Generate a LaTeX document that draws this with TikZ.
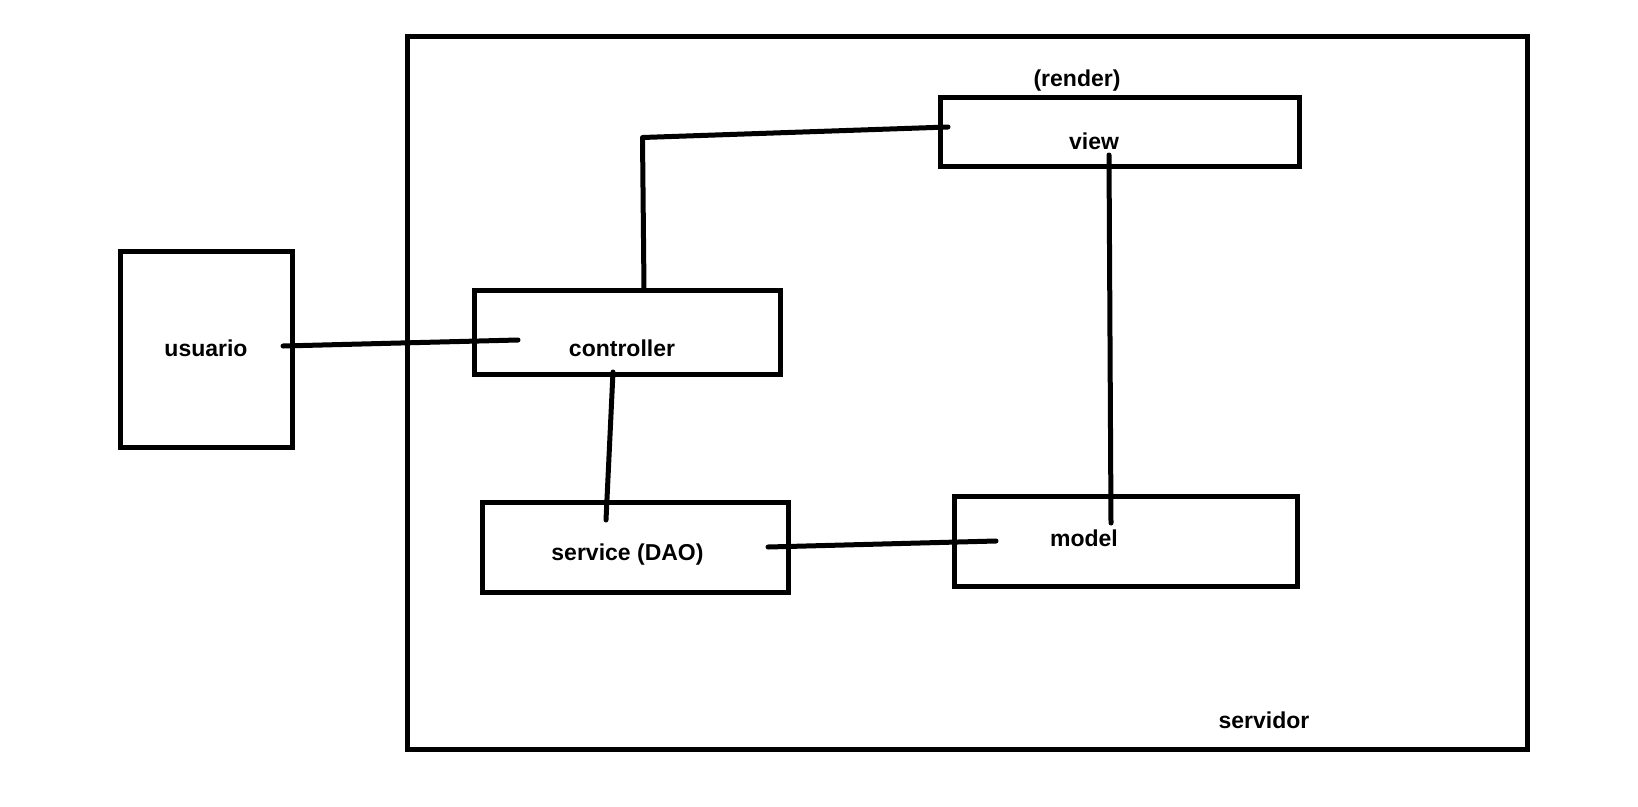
\documentclass[tikz,border=0pt]{standalone}
\usepackage{fontspec}
\setmainfont{Liberation Sans}
\begin{document}
\begin{tikzpicture}[x=1pt,y=-1pt,
  box/.style={draw=black,line width=5pt,rectangle,inner sep=0pt,outer sep=0pt},
  lbl/.style={anchor=base,inner sep=0pt,font=\fontsize{23}{27}\selectfont\bfseries},
  wire/.style={draw=black,line width=5pt,line cap=round,line join=round}]
\fill[white] (0,0) rectangle (1638,806);
\useasboundingbox (0,0) rectangle (1638,806);
% boxes
\node[box,minimum width=1119.5pt,minimum height=713pt] (servidor) at (967.25,392.5) {};
\node[box,minimum width=172.5pt,minimum height=196.5pt] (usuario) at (206.25,349.25) {};
\node[box,minimum width=306pt,minimum height=84pt] (controller) at (627.5,332.5) {};
\node[box,minimum width=359pt,minimum height=69pt] (view) at (1119.5,131.5) {};
\node[box,minimum width=306.5pt,minimum height=90.5pt] (service) at (635.25,547.25) {};
\node[box,minimum width=343.5pt,minimum height=89.5pt] (model) at (1125.75,541.25) {};
% labels
\node[lbl] (tusuario) at (206,356.7) {usuario};
\node[lbl] (tcontroller) at (622,356.7) {controller};
\node[lbl] (tview) at (1094,149.3) {view};
\node[lbl] (trender) at (1077,86) {(render)};
\node[lbl] (tservice) at (627.5,560.6) {service (DAO)};
\node[lbl] (tmodel) at (1084,546) {model};
\node[lbl] (tservidor) at (1264,728) {servidor};
% connector end points
\coordinate (u1) at (283,346);
\coordinate (c1) at (518,340);
\coordinate (c2) at (644,290);
\coordinate (cv) at (642.5,137.5);
\coordinate (v1) at (948,127);
\coordinate (v2) at (1109,155);
\coordinate (m1) at (1111,523);
\coordinate (c3) at (613,372);
\coordinate (s1) at (606,520);
\coordinate (s2) at (768,547);
\coordinate (m2) at (996,541);
% connectors
\draw[wire] (u1) -- (c1);
\draw[wire] (c2) -- (cv) -- (v1);
\draw[wire] (v2) -- (m1);
\draw[wire] (c3) -- (s1);
\draw[wire] (s2) -- (m2);
\end{tikzpicture}
\end{document}
